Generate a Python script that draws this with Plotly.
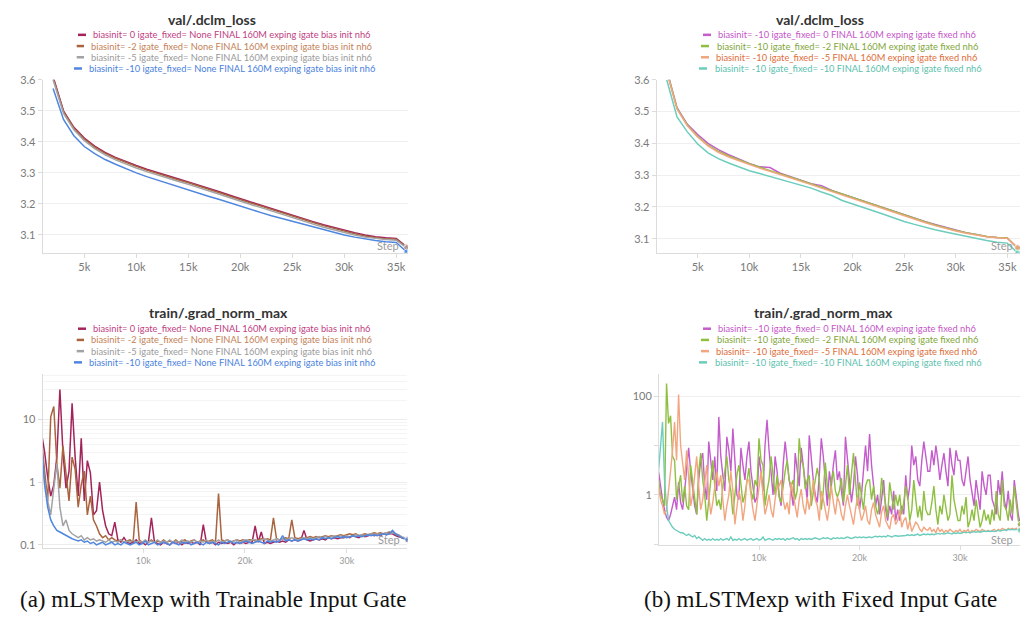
import plotly.graph_objects as go

# ---------------- data ----------------
loss_steps = [k * 1000 for k in range(2, 37)]

# (a) trainable input gate, val loss
loss_a_b0 = [3.610, 3.500, 3.447, 3.412, 3.386, 3.366, 3.350, 3.336, 3.324, 3.312, 3.301, 3.291, 3.281, 3.271, 3.261, 3.250, 3.239, 3.228, 3.216, 3.206, 3.196, 3.185, 3.174, 3.163, 3.153, 3.143, 3.133, 3.124, 3.115, 3.107, 3.100, 3.094, 3.091, 3.089, 3.062]
loss_a_b2 = [3.607, 3.497, 3.444, 3.409, 3.383, 3.363, 3.347, 3.333, 3.321, 3.309, 3.298, 3.288, 3.278, 3.268, 3.258, 3.247, 3.236, 3.225, 3.213, 3.203, 3.193, 3.182, 3.171, 3.160, 3.150, 3.140, 3.130, 3.121, 3.112, 3.104, 3.097, 3.091, 3.088, 3.086, 3.060]
loss_a_b5 = [3.600, 3.492, 3.439, 3.404, 3.378, 3.358, 3.342, 3.328, 3.316, 3.304, 3.293, 3.283, 3.273, 3.263, 3.253, 3.242, 3.231, 3.220, 3.208, 3.198, 3.188, 3.177, 3.166, 3.155, 3.145, 3.135, 3.125, 3.116, 3.108, 3.100, 3.093, 3.088, 3.085, 3.083, 3.058]
loss_a_b10 = [3.572, 3.472, 3.420, 3.385, 3.362, 3.343, 3.328, 3.313, 3.300, 3.288, 3.277, 3.266, 3.256, 3.246, 3.235, 3.224, 3.214, 3.203, 3.194, 3.183, 3.172, 3.162, 3.153, 3.143, 3.134, 3.125, 3.116, 3.108, 3.100, 3.093, 3.087, 3.082, 3.078, 3.076, 3.045]

# (b) fixed input gate, val loss
loss_b_f0 = [3.632, 3.512, 3.460, 3.428, 3.400, 3.380, 3.364, 3.350, 3.337, 3.326, 3.324, 3.306, 3.295, 3.284, 3.273, 3.267, 3.252, 3.241, 3.230, 3.219, 3.207, 3.196, 3.185, 3.174, 3.164, 3.154, 3.145, 3.136, 3.127, 3.119, 3.113, 3.107, 3.104, 3.102, 3.071]
loss_b_f2 = [3.630, 3.510, 3.457, 3.422, 3.394, 3.375, 3.360, 3.347, 3.336, 3.325, 3.315, 3.305, 3.294, 3.283, 3.272, 3.262, 3.251, 3.241, 3.230, 3.219, 3.208, 3.196, 3.184, 3.173, 3.163, 3.153, 3.143, 3.134, 3.126, 3.119, 3.113, 3.107, 3.104, 3.102, 3.069]
loss_b_f5 = [3.625, 3.508, 3.455, 3.420, 3.392, 3.372, 3.357, 3.345, 3.334, 3.322, 3.312, 3.302, 3.291, 3.281, 3.270, 3.259, 3.248, 3.238, 3.228, 3.216, 3.204, 3.193, 3.182, 3.171, 3.161, 3.151, 3.141, 3.132, 3.124, 3.117, 3.111, 3.106, 3.103, 3.101, 3.072]
loss_b_f10 = [3.600, 3.483, 3.436, 3.398, 3.370, 3.352, 3.338, 3.325, 3.314, 3.305, 3.296, 3.288, 3.279, 3.270, 3.259, 3.247, 3.236, 3.220, 3.210, 3.199, 3.188, 3.177, 3.165, 3.154, 3.145, 3.136, 3.128, 3.121, 3.114, 3.107, 3.100, 3.094, 3.089, 3.086, 3.055]

# (a) trainable input gate, grad norm max (every 300 steps)
grad_steps_a = [i * 300 for i in range(121)]
grad_a_b0 = [6.0, 3.0, 1.2, 0.6, 0.9, 2.5, 30, 3.0, 0.8, 1.5,
             18, 2.5, 0.6, 5.0, 0.5, 2.2, 1.4, 0.3, 0.35, 1.0,
             0.35, 0.2, 0.15, 0.14, 0.23, 0.12, 0.11, 0.13, 0.11, 0.105,
             0.11, 0.12, 0.105, 0.11, 0.1, 0.11, 0.27, 0.11, 0.105, 0.1,
             0.11, 0.105, 0.1, 0.11, 0.105, 0.11, 0.1, 0.11, 0.105, 0.11,
             0.105, 0.11, 0.1, 0.21, 0.11, 0.105, 0.11, 0.1, 0.11, 0.105,
             0.11, 0.105, 0.11, 0.1, 0.11, 0.105, 0.11, 0.105, 0.11, 0.11,
             0.2, 0.11, 0.16, 0.105, 0.11, 0.105, 0.11, 0.115, 0.11, 0.115,
             0.11, 0.12, 0.115, 0.12, 0.115, 0.12, 0.17, 0.12, 0.115, 0.12,
             0.125, 0.12, 0.125, 0.12, 0.13, 0.125, 0.13, 0.125, 0.13, 0.13,
             0.135, 0.13, 0.14, 0.135, 0.13, 0.14, 0.135, 0.14, 0.145, 0.14,
             0.145, 0.14, 0.15, 0.145, 0.15, 0.15, 0.14, 0.135, 0.13, 0.125,
             0.12]
grad_a_b2 = [4.5, 1.5, 0.5, 11, 16, 2.0, 0.8, 3.8, 1.2, 0.5,
             2.5, 1.6, 0.4, 0.9, 1.5, 0.3, 0.6, 0.25, 0.2, 0.15,
             0.13, 0.14, 0.12, 0.13, 0.12, 0.115, 0.12, 0.11, 0.115, 0.12,
             0.11, 0.48, 0.12, 0.11, 0.115, 0.11, 0.12, 0.11, 0.115, 0.11,
             0.12, 0.11, 0.115, 0.11, 0.12, 0.11, 0.115, 0.12, 0.11, 0.115,
             0.12, 0.11, 0.115, 0.12, 0.11, 0.115, 0.12, 0.11, 0.66, 0.12,
             0.115, 0.12, 0.11, 0.115, 0.12, 0.115, 0.12, 0.115, 0.12, 0.12,
             0.115, 0.12, 0.125, 0.12, 0.125, 0.12, 0.27, 0.125, 0.12, 0.125,
             0.13, 0.125, 0.25, 0.13, 0.125, 0.13, 0.125, 0.13, 0.135, 0.13,
             0.135, 0.13, 0.135, 0.14, 0.135, 0.14, 0.135, 0.14, 0.145, 0.14,
             0.145, 0.15, 0.145, 0.15, 0.14, 0.145, 0.15, 0.145, 0.15, 0.155,
             0.15, 0.155, 0.15, 0.155, 0.16, 0.155, 0.15, 0.14, 0.13, 0.125,
             0.12]
grad_a_b5 = [4.0, 1.0, 0.5, 0.3, 0.8, 2.0, 0.4, 0.2, 0.25, 0.17,
             0.15, 0.14, 0.13, 0.14, 0.12, 0.13, 0.12, 0.125, 0.115, 0.12,
             0.115, 0.11, 0.12, 0.11, 0.115, 0.11, 0.12, 0.11, 0.115, 0.11,
             0.12, 0.11, 0.115, 0.11, 0.12, 0.11, 0.115, 0.11, 0.12, 0.11,
             0.115, 0.11, 0.12, 0.11, 0.115, 0.11, 0.12, 0.11, 0.115, 0.11,
             0.12, 0.11, 0.115, 0.11, 0.12, 0.11, 0.115, 0.11, 0.12, 0.11,
             0.115, 0.12, 0.11, 0.115, 0.12, 0.11, 0.115, 0.12, 0.115, 0.12,
             0.12, 0.115, 0.12, 0.125, 0.12, 0.115, 0.12, 0.125, 0.12, 0.125,
             0.12, 0.125, 0.13, 0.125, 0.12, 0.125, 0.13, 0.125, 0.13, 0.125,
             0.13, 0.135, 0.13, 0.135, 0.13, 0.135, 0.14, 0.135, 0.14, 0.135,
             0.14, 0.135, 0.14, 0.145, 0.14, 0.145, 0.14, 0.145, 0.15, 0.145,
             0.15, 0.145, 0.15, 0.155, 0.15, 0.155, 0.15, 0.145, 0.135, 0.13,
             0.125]
grad_a_b10 = [4.0, 0.9, 0.4, 0.25, 0.2, 0.17, 0.16, 0.15, 0.14, 0.13,
              0.125, 0.12, 0.115, 0.12, 0.11, 0.115, 0.105, 0.11, 0.1, 0.105,
              0.11, 0.1, 0.105, 0.11, 0.1, 0.105, 0.1, 0.11, 0.105, 0.1,
              0.105, 0.11, 0.1, 0.105, 0.115, 0.1, 0.105, 0.11, 0.1, 0.105,
              0.11, 0.105, 0.1, 0.11, 0.105, 0.1, 0.11, 0.105, 0.11, 0.1,
              0.105, 0.11, 0.105, 0.1, 0.11, 0.105, 0.11, 0.105, 0.1, 0.11,
              0.105, 0.11, 0.115, 0.105, 0.11, 0.105, 0.11, 0.115, 0.11, 0.105,
              0.11, 0.115, 0.11, 0.105, 0.115, 0.11, 0.115, 0.11, 0.115, 0.14,
              0.115, 0.12, 0.115, 0.12, 0.115, 0.12, 0.125, 0.12, 0.125, 0.12,
              0.125, 0.12, 0.13, 0.125, 0.13, 0.125, 0.13, 0.135, 0.13, 0.135,
              0.13, 0.135, 0.14, 0.135, 0.14, 0.135, 0.14, 0.145, 0.14, 0.145,
              0.14, 0.145, 0.15, 0.145, 0.15, 0.17, 0.15, 0.14, 0.13, 0.125,
              0.12]

# (b) fixed input gate, grad norm max (every 200 steps)
grad_steps_b = [j * 200 for j in range(181)]
grad_b_f0 = [3.0, 1.5, 0.8, 0.5, 0.35, 0.3, 0.4, 0.6, 0.9, 0.5, 1.8, 0.7, 0.5, 1.2, 4.0,
             9.0, 3.0, 1.5, 0.6, 0.4, 2.0, 5.0, 7.0, 1.5, 0.8, 12, 4.0, 2.0, 6.0, 1.2,
             38, 6.0, 2.5, 1.2, 15, 8.0, 3.0, 22, 5.0, 1.0, 0.8, 9.0, 4.0, 2.0, 6.0,
             12, 3.0, 1.5, 0.7, 0.9, 6.0, 3.0, 1.2, 10, 33, 8.0, 2.5, 1.0, 6.0, 3.0,
             1.0, 0.6, 4.0, 12, 5.0, 2.0, 1.2, 0.6, 7.0, 3.0, 1.5, 9.0, 4.0, 2.0, 0.8,
             16, 5.0, 2.0, 1.0, 0.7, 2.5, 14, 6.0, 1.5, 0.6, 3.0, 1.5, 4.0, 8.0, 2.0,
             3.0, 1.2, 0.6, 15, 5.0, 2.0, 0.7, 1.5, 6.0, 2.5, 0.5, 1.0, 4.0, 10, 3.0,
             17, 4.0, 1.5, 0.6, 1.0, 0.4, 0.8, 2.0, 0.5, 0.3, 0.6, 0.4, 1.2, 0.3, 0.5,
             0.3, 0.6, 0.4, 2.5, 0.8, 1.5, 10, 4.0, 6.0, 2.0, 1.5, 5.0, 12, 6.0, 3.0,
             3.0, 8.0, 4.0, 10, 5.0, 2.0, 4.0, 7.0, 3.0, 1.5, 9.0, 4.0, 2.5, 8.0, 5.0,
             5.0, 2.0, 1.5, 3.0, 6.0, 2.0, 1.0, 0.6, 2.0, 0.9, 0.5, 3.0, 1.5, 1.0, 2.5,
             2.5, 0.8, 0.6, 0.4, 2.0, 1.0, 3.0, 0.8, 0.5, 1.2, 0.4, 0.3, 2.0, 0.8, 0.4,
             0.25]
grad_b_f2 = [2.0, 1.0, 0.8, 0.6, 180, 28, 40, 6.0, 5.0, 0.8, 1.5, 2.5, 0.7, 1.5, 0.6,
             0.5, 4.0, 2.0, 1.0, 0.4, 3.0, 7.0, 2.0, 1.0, 0.3, 0.8, 2.0, 5.0, 1.5, 0.6,
             0.8, 0.5, 1.5, 3.0, 6.0, 2.0, 1.2, 0.4, 0.9, 2.5, 4.0, 1.5, 0.7, 1.0, 2.0,
             3.5, 1.2, 0.8, 2.0, 1.5, 14, 5.0, 4.0, 0.6, 1.2, 2.0, 6.0, 2.5, 1.0, 2.5,
             0.9, 0.7, 1.5, 3.0, 5.0, 2.0, 1.5, 2.0, 0.8, 1.2, 14, 5.0, 4.0, 1.3, 2.0,
             2.5, 0.6, 1.0, 2.0, 3.5, 2.0, 0.5, 1.2, 4.5, 1.5, 0.8, 2.0, 3.0, 1.2, 0.9,
             1.2, 2.2, 0.7, 1.5, 4.0, 1.0, 2.5, 7.0, 2.0, 0.6, 1.8, 1.0, 0.5, 1.5, 2.0,
             2.0, 0.8, 1.5, 0.6, 0.4, 0.6, 2.2, 1.2, 0.6, 0.35, 1.8, 0.9, 0.5, 1.0, 0.6,
             1.0, 0.4, 0.7, 1.5, 0.9, 0.3, 0.5, 2.0, 0.8, 0.35, 0.6, 0.3, 1.2, 0.5, 0.4,
             0.4, 0.7, 1.5, 0.5, 0.25, 0.6, 0.4, 1.0, 0.5, 0.3, 0.4, 2.5, 0.8, 0.5, 0.3,
             0.3, 0.6, 0.4, 0.9, 0.22, 0.3, 0.5, 0.3, 0.8, 0.4, 0.22, 0.3, 0.5, 0.3, 0.4,
             0.25, 0.5, 0.3, 1.2, 0.4, 0.3, 2.0, 0.6, 0.5, 0.3, 0.8, 0.4, 1.5, 0.6, 0.3,
             0.25]
grad_b_f5 = [1.5, 0.8, 0.6, 0.4, 0.5, 1.5, 3.0, 8.0, 30, 5.0, 108, 10, 5.0, 2.0, 8.0,
             2.0, 0.6, 1.0, 3.0, 6.0, 1.5, 0.5, 0.8, 2.0, 4.0, 1.0, 0.4, 0.7, 1.5, 3.0,
             1.5, 2.5, 0.8, 0.3, 0.6, 1.0, 3.0, 1.2, 0.25, 0.5, 1.2, 0.8, 0.3, 0.6, 2.0,
             2.0, 0.9, 0.5, 0.3, 0.7, 1.5, 3.0, 1.0, 0.4, 0.6, 1.0, 0.5, 0.35, 0.8, 1.5,
             1.5, 2.0, 0.8, 0.5, 0.7, 0.4, 1.8, 1.0, 0.6, 0.35, 0.8, 1.3, 0.6, 0.4, 0.9,
             0.5, 0.9, 2.0, 0.8, 0.6, 0.3, 1.2, 0.8, 0.45, 0.3, 0.6, 1.5, 0.7, 0.4, 0.9,
             0.7, 0.4, 0.3, 0.6, 1.0, 0.6, 0.35, 0.25, 0.5, 0.9, 0.5, 0.3, 0.4, 0.6, 0.3,
             0.25, 0.5, 0.7, 0.4, 0.3, 0.22, 0.45, 0.6, 0.3, 0.25, 0.2, 0.35, 0.4, 0.25, 0.3,
             0.5, 0.22, 0.3, 0.35, 0.2, 0.3, 0.18, 0.22, 0.28, 0.25, 0.2, 0.18, 0.22, 0.2, 0.19,
             0.22, 0.18, 0.2, 0.17, 0.22, 0.18, 0.2, 0.17, 0.19, 0.18, 0.2, 0.18, 0.17, 0.19, 0.18,
             0.2, 0.17, 0.19, 0.18, 0.2, 0.17, 0.19, 0.18, 0.2, 0.19, 0.18, 0.2, 0.19, 0.18, 0.19,
             0.18, 0.19, 0.2, 0.18, 0.2, 0.19, 0.21, 0.2, 0.19, 0.21, 0.2, 0.21, 0.2, 0.21, 0.2,
             0.2]
grad_b_f10 = [3.0, 12, 30, 2.0, 0.6, 0.3, 0.25, 0.22, 0.2, 0.19, 0.18, 0.17, 0.17, 0.16, 0.15,
              0.16, 0.15, 0.14, 0.15, 0.13, 0.14, 0.13, 0.12, 0.13, 0.12, 0.125, 0.12, 0.13, 0.12, 0.125,
              0.12, 0.13, 0.12, 0.125, 0.13, 0.12, 0.14, 0.12, 0.125, 0.12, 0.13, 0.12, 0.125, 0.13, 0.12,
              0.125, 0.13, 0.12, 0.125, 0.13, 0.12, 0.125, 0.14, 0.12, 0.125, 0.13, 0.125, 0.12, 0.13, 0.125,
              0.13, 0.125, 0.13, 0.12, 0.13, 0.125, 0.13, 0.135, 0.125, 0.13, 0.12, 0.13, 0.125, 0.13, 0.125,
              0.13, 0.125, 0.13, 0.135, 0.13, 0.125, 0.13, 0.135, 0.13, 0.135, 0.13, 0.125, 0.135, 0.13, 0.135,
              0.13, 0.135, 0.13, 0.135, 0.14, 0.135, 0.13, 0.135, 0.14, 0.135, 0.14, 0.135, 0.14, 0.135, 0.14,
              0.14, 0.135, 0.14, 0.145, 0.14, 0.145, 0.14, 0.145, 0.14, 0.15, 0.145, 0.14, 0.145, 0.15, 0.145,
              0.145, 0.15, 0.145, 0.15, 0.155, 0.15, 0.155, 0.15, 0.155, 0.16, 0.15, 0.155, 0.16, 0.155, 0.16,
              0.155, 0.16, 0.155, 0.16, 0.165, 0.16, 0.165, 0.16, 0.165, 0.17, 0.165, 0.16, 0.17, 0.165, 0.17,
              0.165, 0.17, 0.175, 0.17, 0.175, 0.17, 0.175, 0.18, 0.175, 0.18, 0.175, 0.18, 0.185, 0.18, 0.185,
              0.18, 0.185, 0.18, 0.185, 0.19, 0.185, 0.19, 0.195, 0.19, 0.2, 0.195, 0.2, 0.195, 0.2, 0.2,
              0.19]

names_a = ["biasinit= 0 igate_fixed= None FINAL 160M exping igate bias init nh6",
           "biasinit= -2 igate_fixed= None FINAL 160M exping igate bias init nh6",
           "biasinit= -5 igate_fixed= None FINAL 160M exping igate bias init nh6",
           "biasinit= -10 igate_fixed= None FINAL 160M exping igate bias init nh6"]
names_b = ["biasinit= -10 igate_fixed= 0 FINAL 160M exping igate fixed nh6",
           "biasinit= -10 igate_fixed= -2 FINAL 160M exping igate fixed nh6",
           "biasinit= -10 igate_fixed= -5 FINAL 160M exping igate fixed nh6",
           "biasinit= -10 igate_fixed= -10 FINAL 160M exping igate fixed nh6"]

loss_ticks = [5000, 10000, 15000, 20000, 25000, 30000, 35000]
loss_ticktext = ["5k", "10k", "15k", "20k", "25k", "30k", "35k"]
grad_ticks = [10000, 20000, 30000]
grad_ticktext = ["10k", "20k", "30k"]

# ---------------- style ----------------
line_a = ["#a3235b", "#a9643f", "#a3a3a3", "#4f86e0"]
text_a = ["#c0407f", "#c48258", "#9a9a9a", "#4a7fe0"]
line_b = ["#c45ccc", "#8fbf40", "#f2a680", "#6ccdbd"]
text_b = ["#c456c8", "#7fa63a", "#e06d3a", "#5cbfae"]

W, H = 1036, 618
def px(x): return x / W
def py(y): return 1 - y / H

fig = go.Figure()

def add_series(xs, ys, color, xa, ya, width=1.5):
    n = len(ys)
    sizes = [0] * (n - 1) + [6]
    fig.add_trace(go.Scatter(x=xs, y=ys, mode="lines+markers", xaxis=xa, yaxis=ya,
                             line=dict(color=color, width=width),
                             marker=dict(size=sizes, color=color),
                             showlegend=False, hoverinfo="skip"))

for ys, c in zip([loss_a_b0, loss_a_b2, loss_a_b5, loss_a_b10], line_a):
    add_series(loss_steps, ys, c, "x", "y")
for ys, c in zip([loss_b_f0, loss_b_f2, loss_b_f5, loss_b_f10], line_b):
    add_series(loss_steps, ys, c, "x2", "y2")
for ys, c in zip([grad_a_b0, grad_a_b2, grad_a_b5, grad_a_b10], line_a):
    add_series(grad_steps_a, ys, c, "x3", "y3")
for ys, c in zip([grad_b_f0, grad_b_f2, grad_b_f5, grad_b_f10], line_b):
    add_series(grad_steps_b, ys, c, "x4", "y4", width=1.4)

tick_font = dict(family="Lato, Noto Sans, sans-serif", size=11, color="#7a7a7a")
small_tick_font = dict(family="Lato, Noto Sans, sans-serif", size=9, color="#9a9a9a")
axis_common = dict(showline=True, linecolor="#dcdcdc", linewidth=1, ticks="outside",
                   tickcolor="#dcdcdc", ticklen=4, zeroline=False)

fig.update_layout(
    width=W, height=H, margin=dict(l=0, r=0, t=0, b=0),
    paper_bgcolor="white", plot_bgcolor="white", showlegend=False,
    xaxis=dict(domain=[px(42.7), px(407.5)], range=[1000, 36080], tickvals=loss_ticks,
               ticktext=loss_ticktext, showgrid=False, tickfont=tick_font, anchor="y", **axis_common),
    yaxis=dict(domain=[py(250), py(74)], range=[3.042, 3.6], tickvals=[3.1, 3.2, 3.3, 3.4, 3.5, 3.6],
               showgrid=True, gridcolor="#efefef", tickfont=tick_font, anchor="x", **axis_common),
    xaxis2=dict(domain=[px(656.7), px(1020)], range=[1030, 36230], tickvals=loss_ticks,
                ticktext=loss_ticktext, showgrid=False, tickfont=tick_font, anchor="y2", **axis_common),
    yaxis2=dict(domain=[py(250), py(74)], range=[3.055, 3.6], tickvals=[3.1, 3.2, 3.3, 3.4, 3.5, 3.6],
                showgrid=True, gridcolor="#efefef", tickfont=tick_font, anchor="x2", **axis_common),
    xaxis3=dict(domain=[px(42.7), px(407.3)], range=[110, 35960], tickvals=grad_ticks,
                ticktext=grad_ticktext, showgrid=False, tickfont=small_tick_font, anchor="y3", **axis_common),
    yaxis3=dict(domain=[py(550), py(373)], type="log", range=[-1.052, 1.724],
                tickvals=[0.1, 1, 10], ticktext=["0.1", "1", "10"],
                showgrid=True, gridcolor="#ececec", tickfont=tick_font, anchor="x3",
                minor=dict(showgrid=True, gridcolor="#f4f4f4",
                           tickvals=[0.2, 0.3, 0.4, 0.5, 0.6, 0.7, 0.8, 0.9, 2, 3, 4, 5, 6, 7, 8, 9,
                                     20, 30, 40, 50], ticks=""),
                **axis_common),
    xaxis4=dict(domain=[px(659), px(1020)], range=[50, 35970], tickvals=grad_ticks,
                ticktext=grad_ticktext, showgrid=False, tickfont=small_tick_font, anchor="y4", **axis_common),
    yaxis4=dict(domain=[py(547), py(373)], type="log", range=[-1.02, 2.45],
                tickvals=[0.1, 1, 10, 100], ticktext=["", "1", "", "100"],
                showgrid=True, gridcolor="#efefef", tickfont=tick_font, anchor="x4", **axis_common),
)

ann = []
shapes = []
title_font = dict(family="Lato, Noto Sans, sans-serif", size=14, color="#333333")
for cx, title, ty in [(212, "val/.dclm_loss", 12.5), (820, "val/.dclm_loss", 12.5),
                      (218, "train/.grad_norm_max", 310.5), (823, "train/.grad_norm_max", 310.5)]:
    ann.append(dict(x=px(cx), y=py(ty), xref="paper", yref="paper", text="<b>%s</b>" % title,
                    showarrow=False, font=title_font, xanchor="center", yanchor="middle"))

leg_x_a = [(78, 86, 90.7), (76.7, 84, 89.3), (76.7, 84, 89.3), (74, 82, 87.3)]
leg_x_b = [(703, 711, 716), (701, 709, 715), (701, 709, 714.3), (699, 707, 712.7)]

def legend_block(pos, y0, names, lcols, tcols):
    for i, ((d0, d1, tx), nm, lc, tc) in enumerate(zip(pos, names, lcols, tcols)):
        yy = y0 + i * 11.4
        shapes.append(dict(type="line", xref="paper", yref="paper", x0=px(d0), x1=px(d1),
                           y0=py(yy), y1=py(yy), line=dict(color=lc, width=2.5)))
        ann.append(dict(x=px(tx), y=py(yy), xref="paper", yref="paper", text=nm,
                        showarrow=False, font=dict(family="Lato, Noto Sans, sans-serif", size=9.3, color=tc),
                        xanchor="left", yanchor="middle"))

legend_block(leg_x_a, 28.3, names_a, line_a, text_a)
legend_block(leg_x_b, 28.3, names_b, line_b, text_b)
legend_block(leg_x_a, 327, names_a, line_a, text_a)
legend_block(leg_x_b, 327, names_b, line_b, text_b)

step_font = dict(family="Lato, Noto Sans, sans-serif", size=11, color="#9a9a9a")
for sx, sy in [(401, 242), (1015, 242), (402, 541), (1015, 541)]:
    ann.append(dict(x=px(sx), y=py(sy), xref="paper", yref="paper", text="Step",
                    showarrow=False, font=step_font, xanchor="right", yanchor="middle"))

cap_font = dict(family="Liberation Serif, Times New Roman, serif", size=23, color="#111111")
ann.append(dict(x=px(213), y=py(602), xref="paper", yref="paper",
                text="(a) mLSTMexp with Trainable Input Gate", showarrow=False, font=cap_font,
                xanchor="center", yanchor="middle"))
ann.append(dict(x=px(820), y=py(602), xref="paper", yref="paper",
                text="(b) mLSTMexp with Fixed Input Gate", showarrow=False, font=cap_font,
                xanchor="center", yanchor="middle"))

fig.update_layout(annotations=ann, shapes=shapes)
fig.write_html("out.html")
